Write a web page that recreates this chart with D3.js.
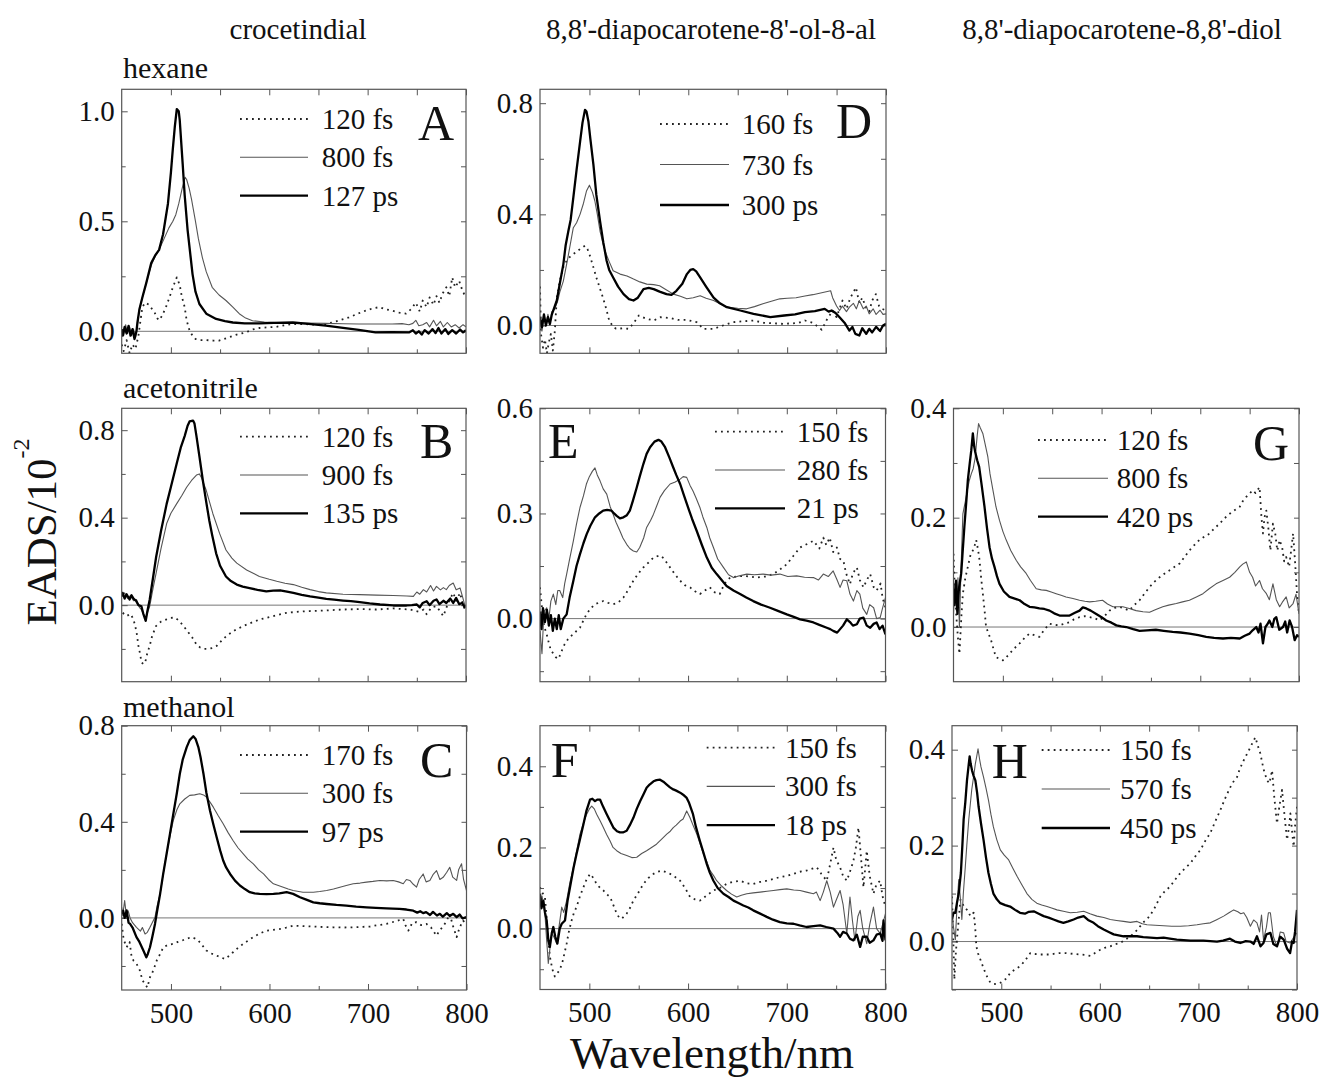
<!DOCTYPE html>
<html><head><meta charset="utf-8">
<script src="https://cdn.jsdelivr.net/npm/d3@7"></script>
<style>
body{margin:0;background:#fff}
svg{display:block}
text{font-family:"Liberation Serif","Times New Roman",serif;fill:#111}
</style>
</head><body>
<svg id="chart" width="1322" height="1081"></svg>
<script>
// ---------------- DATA ----------------
const columnTitles = ["crocetindial", "8,8'-diapocarotene-8'-ol-8-al", "8,8'-diapocarotene-8,8'-diol"];
const solventLabels = ["hexane", "acetonitrile", "methanol"];
const xMajor = [500, 600, 700, 800];
const xMinor = [550, 650, 750];

const legA = ["120 fs", "800 fs", "127 ps"];
const legB = ["120 fs", "900 fs", "135 ps"];
const legC = ["170 fs", "300 fs", "97 ps"];
const legD = ["160 fs", "730 fs", "300 ps"];
const legE = ["150 fs", "280 fs", "21 ps"];
const legF = ["150 fs", "300 fs", "18 ps"];
const legG = ["120 fs", "800 fs", "420 ps"];
const legH = ["150 fs", "570 fs", "450 ps"];

const yMajA = [0, 0.5, 1.0], yMinA = [0.25, 0.75];
const yMajB = [0, 0.4, 0.8], yMinB = [-0.2, 0.2, 0.6];
const yMajC = [0, 0.4, 0.8], yMinC = [-0.2, 0.2, 0.6];
const yMajD = [0, 0.4, 0.8], yMinD = [0.2, 0.6];
const yMajE = [0, 0.3, 0.6], yMinE = [-0.15, 0.15, 0.45];
const yMajF = [0, 0.2, 0.4], yMinF = [-0.1, 0.1, 0.3];
const yMajG = [0, 0.2, 0.4], yMinG = [0.1, 0.3];
const yMajH = [0, 0.2, 0.4], yMinH = [-0.1, 0.1, 0.3];

// Panel A : crocetindial / hexane
const A_120fs = [[450,-0.06],[452,-0.09],[455,-0.04],[458,-0.1],[461,-0.06],[464,-0.08],[467,-0.02],[471,0.11],[474,0.13],[478,0.12],[481,0.1],[483,0.09],[486,0.06],[488,0.05],[491,0.07],[495,0.11],[499,0.16],[502,0.2],[506,0.245],[509,0.21],[511,0.16],[514,0.11],[516,0.05],[519,0.003],[522,-0.02],[525,-0.035],[530,-0.04],[536,-0.04],[543,-0.042],[549,-0.042],[554,-0.035],[559,-0.027],[567,-0.015],[576,-0.005],[583,0.008],[590,0.015],[598,0.018],[607,0.02],[615,0.027],[624,0.033],[635,0.033],[647,0.03],[657,0.032],[668,0.045],[681,0.063],[690,0.08],[698,0.094],[705,0.104],[712,0.11],[718,0.1],[725,0.094],[732,0.085],[739,0.08],[744,0.1],[749,0.13],[753,0.09],[756,0.14],[760,0.11],[763,0.154],[767,0.12],[770,0.16],[773,0.13],[776,0.17],[780,0.2],[783,0.16],[786,0.245],[789,0.2],[793,0.23],[796,0.19],[798,0.17],[800,0.16]];
const A_800fs = [[450,0.01],[452,-0.02],[454,0.03],[456,-0.01],[458,0.02],[460,-0.02],[462,0.01],[464,-0.03],[466,0.03],[468,0.1],[471,0.154],[475,0.22],[480,0.3],[484,0.34],[488,0.37],[493,0.42],[498,0.47],[502,0.5],[505,0.53],[508,0.58],[510,0.62],[512,0.66],[514.5,0.70],[516,0.69],[518.6,0.65],[521,0.6],[525,0.5],[528,0.42],[532,0.335],[536,0.27],[542,0.2],[549,0.165],[556,0.14],[563,0.11],[569.5,0.08],[576,0.06],[583,0.048],[595,0.042],[607,0.04],[620,0.04],[635,0.038],[657,0.036],[675,0.034],[691,0.033],[710,0.033],[725,0.033],[735,0.035],[742,0.03],[746,0.036],[749,0.05],[752,0.025],[756,0.03],[760,0.04],[763,0.02],[767,0.05],[770,0.025],[774,0.045],[777,0.02],[781,0.04],[785,0.02],[789,0.03],[793,0.015],[797,0.03],[800,0.02]];
const A_127ps = [[450,0.01],[451,-0.02],[453,0.02],[455,-0.01],[457,0.025],[459,-0.02],[461,0.01],[463,-0.035],[465,0.0],[466,0.04],[468,0.1],[471,0.154],[475,0.22],[480,0.31],[484,0.345],[488,0.37],[492,0.44],[497,0.58],[500,0.72],[502,0.83],[504,0.93],[506,1.01],[508,1.0],[509,0.96],[512,0.76],[514,0.62],[517,0.46],[520,0.34],[522,0.26],[525,0.18],[529,0.124],[536,0.08],[546,0.056],[555,0.046],[563,0.04],[575,0.036],[590,0.036],[605,0.038],[624,0.04],[640,0.034],[657.5,0.026],[675,0.016],[691,0.006],[708,-0.005],[725,-0.004],[742,-0.005],[746,0.005],[749,-0.01],[752,0.0],[755,-0.015],[758,0.005],[762,-0.01],[766,0.01],[769,-0.008],[772,0.015],[775,-0.01],[779,0.01],[782,-0.012],[786,0.005],[790,-0.01],[794,0.008],[797,-0.005],[800,0.005]];

// Panel B : crocetindial / acetonitrile
const B_120fs = [[451,-0.035],[455,-0.05],[459,-0.04],[462,-0.065],[465,-0.12],[467,-0.186],[469,-0.23],[470,-0.26],[472,-0.27],[474,-0.26],[476,-0.22],[478.5,-0.186],[481,-0.14],[485,-0.095],[490,-0.075],[495.7,-0.065],[500,-0.058],[504,-0.057],[508,-0.07],[512.7,-0.095],[517,-0.12],[522.8,-0.155],[526,-0.18],[529.6,-0.193],[534,-0.2],[538,-0.2],[542,-0.196],[546.6,-0.186],[551,-0.165],[556.7,-0.14],[565,-0.115],[573.7,-0.095],[582,-0.08],[590.6,-0.065],[604,-0.05],[617.7,-0.035],[630,-0.03],[641,-0.027],[658,-0.024],[675,-0.02],[692,-0.018],[709,-0.02],[726,-0.015],[743,-0.02],[752,-0.03],[757,-0.02],[760,-0.042],[765,-0.01],[770,-0.005],[774,-0.03],[777,-0.05],[781,0.0],[784,0.03],[787,0.056],[790,0.02],[794,0.056],[797,0.0],[799,-0.02]];
const B_900fs = [[450,0.04],[453,0.056],[456,0.03],[459,0.045],[462,0.02],[465,0.026],[468,-0.01],[470,-0.02],[472,-0.04],[474.4,-0.06],[476.5,-0.03],[478.5,-0.005],[482,0.08],[485,0.146],[490,0.26],[495.7,0.373],[500,0.42],[505.8,0.463],[511,0.5],[516,0.539],[521,0.57],[526,0.595],[529,0.6],[531,0.584],[536,0.524],[542.7,0.418],[549.5,0.328],[556,0.252],[562,0.215],[567,0.192],[577,0.161],[590,0.131],[600,0.118],[607.6,0.109],[616,0.1],[624.5,0.094],[633,0.082],[641.5,0.071],[650,0.062],[658,0.056],[675,0.05],[692,0.048],[709,0.046],[726,0.044],[740,0.042],[746.5,0.04],[750,0.06],[753,0.05],[756.7,0.071],[760,0.06],[764,0.09],[767,0.065],[770,0.086],[774,0.07],[777,0.08],[780,0.071],[783,0.09],[787,0.101],[790,0.07],[794,0.078],[797,0.03],[799,-0.005]];
const B_135ps = [[450,0.04],[451,0.056],[453,0.03],[455,0.05],[458,0.026],[460,0.045],[462,0.03],[464.6,0.02],[467,0.0],[470,-0.005],[472,-0.04],[474.4,-0.072],[476,-0.03],[478.5,0.026],[482,0.13],[485,0.22],[490,0.34],[495.7,0.463],[500,0.54],[505.8,0.645],[510,0.72],[514,0.773],[517,0.82],[519,0.84],[522.5,0.844],[524,0.83],[526,0.773],[529,0.68],[532.5,0.57],[536,0.47],[539,0.388],[542,0.32],[546,0.237],[550,0.18],[556,0.131],[561,0.11],[567,0.094],[573,0.085],[580,0.078],[588,0.07],[597,0.063],[604,0.066],[611,0.068],[618,0.062],[624.5,0.056],[633,0.047],[641.5,0.04],[650,0.034],[658,0.029],[666,0.025],[675,0.021],[683,0.018],[692,0.014],[702,0.008],[712.6,0.003],[726,-0.0015],[739.7,-0.0015],[745,0.0],[750,0.003],[753,-0.01],[756,0.01],[760,0.018],[763,0.0],[767,0.02],[770,0.026],[773,0.005],[777,0.02],[780,0.01],[784,0.03],[787,0.01],[790,0.033],[793,0.005],[796,0.01],[799,-0.012]];

// Panel C : crocetindial / methanol
const C_170fs = [[450,-0.025],[452,-0.09],[455,-0.122],[458,-0.1],[460,-0.16],[462,-0.178],[465,-0.19],[468.6,-0.22],[471,-0.26],[473.7,-0.275],[476,-0.29],[478.7,-0.247],[482,-0.22],[485.5,-0.178],[489,-0.15],[492.3,-0.122],[497,-0.112],[502.4,-0.108],[507,-0.1],[512.6,-0.092],[517,-0.085],[521,-0.08],[524,-0.085],[527.8,-0.094],[532,-0.115],[536,-0.136],[541,-0.148],[546.4,-0.157],[551,-0.165],[554.8,-0.171],[559,-0.158],[563,-0.143],[568,-0.125],[573.4,-0.108],[578,-0.095],[583.6,-0.08],[590,-0.065],[597,-0.053],[603,-0.05],[610.6,-0.046],[617,-0.04],[624,-0.032],[634,-0.034],[644.5,-0.036],[655,-0.038],[664.7,-0.039],[675,-0.04],[685,-0.039],[695,-0.037],[702,-0.036],[710,-0.03],[718.8,-0.025],[727,-0.015],[735.8,-0.004],[738,-0.03],[741,-0.053],[745,-0.02],[749.3,-0.018],[754,-0.03],[759.4,-0.025],[764,-0.04],[769.6,-0.074],[773,-0.05],[776.3,-0.036],[780,-0.01],[783,0.017],[786,-0.03],[790,-0.08],[793,-0.04],[796.5,-0.011],[800,-0.025]];
const C_300fs = [[450,0.044],[451,0.01],[453,0.072],[455,0.0],[456.5,0.03],[458.5,0.0],[461,-0.02],[465,-0.039],[469,-0.055],[471,-0.04],[473.7,-0.067],[476,-0.06],[478.7,-0.039],[481,-0.02],[483.8,0.003],[486,0.05],[489,0.1],[492,0.18],[495.6,0.267],[499,0.34],[502.4,0.406],[506,0.45],[509,0.475],[514,0.495],[519,0.51],[524,0.512],[529.3,0.517],[533,0.512],[536,0.503],[540,0.48],[543,0.461],[548,0.425],[553,0.392],[558,0.355],[563,0.322],[568,0.292],[573.4,0.267],[578,0.245],[583.6,0.225],[589,0.2],[594,0.183],[599,0.16],[604,0.142],[609,0.135],[614,0.128],[619,0.12],[624,0.114],[634,0.107],[644.5,0.107],[651,0.11],[658,0.114],[665,0.12],[671.5,0.128],[678,0.135],[685,0.142],[692,0.145],[698.5,0.149],[705,0.152],[712,0.156],[719,0.154],[725.6,0.156],[731,0.15],[735.8,0.142],[739,0.16],[742.5,0.156],[746,0.14],[749.3,0.128],[752,0.16],[756,0.183],[759,0.15],[762.8,0.156],[766,0.18],[769.6,0.197],[773,0.16],[776.3,0.169],[780,0.19],[783,0.211],[786,0.17],[790,0.156],[792,0.2],[795,0.225],[797,0.16],[800,0.114]];
const C_97ps = [[450,0.017],[451.5,0.03],[453,0.0],[455,0.031],[457,-0.02],[458.5,-0.025],[461,-0.04],[465,-0.08],[468,-0.1],[472,-0.136],[475,-0.164],[476.5,-0.15],[478.7,-0.122],[481,-0.08],[483.8,-0.025],[486,0.03],[489,0.1],[492,0.18],[495.6,0.267],[499,0.35],[502.4,0.433],[506,0.52],[509,0.6],[512,0.66],[516,0.711],[519,0.74],[522.7,0.756],[525,0.745],[527.8,0.711],[530,0.67],[533,0.6],[536,0.52],[539.6,0.447],[543,0.39],[546.4,0.336],[550,0.28],[553,0.239],[556,0.21],[560,0.183],[565,0.155],[570,0.135],[575,0.12],[580,0.107],[585,0.102],[590,0.1],[597,0.099],[604,0.1],[610,0.102],[617.4,0.107],[624,0.1],[631,0.086],[638,0.075],[644.5,0.065],[651,0.061],[658,0.058],[668,0.054],[678,0.051],[688,0.047],[698.5,0.044],[708,0.042],[718.8,0.04],[725,0.039],[732,0.0375],[739,0.035],[746,0.03],[750,0.022],[753,0.028],[756,0.02],[759,0.024],[763,0.012],[766,0.025],[770,0.01],[773,0.017],[776,0.005],[780,0.02],[783,0.008],[786.5,0.017],[790,0.003],[793,0.014],[796,-0.002],[800,0.003]];

// Panel D : 8'-ol-8-al / hexane
const D_160fs = [[450,0.14],[451,-0.03],[453,-0.08],[455,-0.05],[457,-0.1],[459,-0.06],[461,-0.03],[463,-0.09],[465,-0.02],[467,0.1],[470,0.16],[473.6,0.21],[478,0.24],[483.7,0.257],[487,0.265],[490.5,0.275],[495.5,0.287],[498,0.275],[500,0.257],[504,0.21],[507,0.173],[510,0.14],[513.7,0.1],[517,0.06],[520,0.018],[524,-0.005],[527,-0.012],[534,-0.01],[540,-0.012],[545,0.01],[550,0.036],[557,0.025],[565,0.018],[572,0.03],[581.5,0.027],[590,0.02],[598.6,0.02],[608.5,0.012],[612,0.0],[615,-0.012],[625.6,-0.012],[635,0.0],[645.6,0.012],[655,0.015],[666,0.018],[676,0.01],[686,0.008],[696,0.006],[706,0.008],[712,0.01],[718,0.018],[726,0.01],[735,-0.015],[740,0.02],[746,0.054],[750,0.03],[756,0.09],[760,0.06],[764,0.1],[769.6,0.137],[773,0.08],[776,0.1],[779.6,0.066],[783,0.05],[786,0.09],[789.7,0.113],[793,0.07],[796,0.06],[800,0.054]];
const D_730fs = [[450,0.01],[452,-0.02],[454,0.03],[456,0.0],[458,0.04],[460,0.01],[462,0.05],[465,0.06],[468,0.09],[470,0.12],[473.6,0.16],[478,0.24],[483.7,0.352],[487,0.37],[490.5,0.4],[494,0.44],[497,0.484],[500,0.505],[503,0.48],[505.5,0.448],[508,0.4],[510.7,0.34],[514,0.29],[517,0.257],[520,0.23],[524,0.197],[531,0.185],[538,0.178],[544.6,0.167],[551,0.157],[558,0.149],[565,0.147],[571,0.143],[578,0.128],[585,0.113],[592,0.105],[598.6,0.096],[605,0.1],[612,0.107],[618,0.098],[625.6,0.09],[632,0.078],[639,0.066],[650,0.062],[659,0.06],[667,0.068],[675.5,0.078],[684,0.087],[692.6,0.096],[700,0.098],[709,0.1],[718,0.106],[726,0.111],[735,0.118],[744,0.125],[746,0.1],[750,0.07],[753,0.054],[756,0.07],[760,0.05],[763,0.066],[767,0.08],[770,0.06],[773,0.09],[777,0.06],[780,0.07],[783,0.042],[787,0.06],[790,0.04],[794,0.055],[797,0.04],[800,0.042]];
const D_300ps = [[450,0.03],[452,-0.006],[454,0.04],[456,0.0],[458,0.03],[460,0.005],[462,0.04],[464,0.06],[467,0.09],[470,0.15],[473.6,0.22],[476,0.29],[478.7,0.34],[481,0.38],[483.7,0.46],[487,0.56],[490.5,0.66],[493,0.73],[495.5,0.776],[497,0.77],[499,0.734],[501,0.67],[504,0.58],[507,0.47],[510.7,0.376],[514,0.3],[517.4,0.233],[520,0.2],[524,0.173],[529,0.14],[534.5,0.113],[540,0.095],[544.6,0.09],[549,0.1],[554.7,0.131],[560,0.135],[565,0.131],[571,0.122],[578,0.113],[583,0.11],[588,0.125],[594,0.15],[598.6,0.185],[602,0.2],[605,0.203],[608,0.195],[612,0.173],[618,0.14],[625.6,0.1],[632,0.08],[639,0.066],[652.6,0.054],[666,0.042],[683,0.03],[697,0.036],[708,0.04],[718,0.048],[728,0.052],[738,0.06],[742,0.05],[745,0.054],[749,0.045],[753,0.03],[758,0.01],[763,-0.018],[766,-0.005],[769,-0.03],[773,-0.036],[776,-0.01],[780,-0.03],[783,-0.012],[786,-0.025],[790,-0.005],[794,-0.02],[797,0.0],[800,0.006]];

// Panel E : 8'-ol-8-al / acetonitrile
const E_150fs = [[450,0.089],[452,0.03],[454,-0.02],[456.8,-0.045],[459,-0.07],[461,-0.09],[463.5,-0.1],[466,-0.11],[468.6,-0.115],[471,-0.1],[473,-0.085],[475,-0.073],[478,-0.06],[481,-0.05],[483.8,-0.045],[487,-0.035],[490.5,-0.026],[494,-0.005],[497,0.012],[501,0.028],[505.7,0.041],[510,0.046],[514,0.05],[519,0.045],[524,0.041],[529,0.045],[534.5,0.06],[540,0.085],[544.6,0.108],[550,0.13],[554.7,0.146],[560,0.16],[565,0.174],[569,0.178],[573,0.179],[577,0.165],[581.8,0.146],[587,0.125],[592,0.108],[597,0.095],[602,0.089],[607,0.078],[612,0.07],[617,0.08],[622,0.089],[627,0.075],[632,0.07],[637,0.1],[642.6,0.117],[649,0.12],[656,0.122],[663,0.12],[669.6,0.117],[678,0.12],[686.5,0.127],[693,0.14],[700,0.155],[707,0.18],[713.5,0.203],[720,0.212],[727,0.222],[733,0.2],[737,0.231],[740,0.21],[743.5,0.231],[747,0.19],[750.7,0.203],[754,0.17],[757.4,0.165],[760,0.13],[764,0.098],[767,0.13],[771,0.146],[774,0.11],[777.7,0.089],[781,0.11],[784.5,0.127],[788,0.09],[791,0.08],[795,0.1],[797,0.06],[800,0.031]];
const E_280fs = [[450,-0.035],[452,-0.1],[454,0.02],[456.8,0.031],[459,0.0],[461,0.05],[463.5,0.07],[466,0.04],[468,0.08],[470,0.08],[473,0.06],[475,0.1],[477,0.127],[480,0.17],[483.8,0.222],[487,0.27],[490.5,0.317],[494,0.35],[497,0.384],[500,0.405],[503,0.42],[505.7,0.43],[508,0.41],[510.8,0.393],[514,0.37],[517.6,0.355],[521,0.32],[524,0.298],[527,0.275],[531,0.25],[534,0.23],[537.8,0.212],[541,0.2],[544.6,0.193],[548,0.19],[551,0.203],[555,0.23],[558,0.26],[562,0.28],[565,0.298],[568,0.32],[571.6,0.346],[576,0.365],[581.8,0.384],[587,0.39],[592,0.398],[595,0.405],[598.6,0.403],[602,0.38],[605,0.364],[608,0.345],[612,0.317],[615,0.29],[619,0.26],[622,0.23],[625.7,0.203],[630,0.17],[635.8,0.146],[641,0.125],[646,0.117],[652,0.122],[659.5,0.127],[667,0.125],[676,0.127],[684,0.124],[693,0.127],[701,0.12],[710,0.122],[718,0.118],[727,0.117],[732,0.11],[737,0.127],[742,0.12],[747,0.136],[751,0.11],[754,0.089],[757,0.11],[760.8,0.108],[764,0.07],[767.5,0.05],[771,0.08],[774,0.07],[777,0.03],[781,0.012],[784,0.04],[788,0.031],[791,0.0],[794.6,0.003],[797,0.03],[800,0.06]];
const E_21ps = [[450,0.02],[451.5,-0.03],[453,0.03],[455,-0.01],[457,0.025],[459,-0.02],[461,0.01],[463,-0.035],[465,0.0],[467,-0.03],[469,0.01],[471,-0.03],[473.6,0.0],[477,0.012],[480,0.06],[483.8,0.108],[487,0.15],[490.5,0.184],[494,0.215],[497.3,0.241],[501,0.265],[505.7,0.289],[510,0.3],[514,0.308],[518,0.31],[522.5,0.308],[525,0.3],[527.7,0.293],[531,0.286],[534.5,0.289],[538,0.295],[541,0.308],[544,0.335],[548,0.374],[551,0.405],[554.7,0.441],[558,0.47],[561.5,0.489],[566,0.505],[570,0.51],[573,0.505],[576.7,0.489],[581,0.46],[585,0.431],[588,0.41],[592,0.384],[596,0.35],[600,0.317],[604,0.285],[608.8,0.25],[614,0.21],[619,0.174],[624,0.145],[629,0.127],[634,0.11],[639,0.093],[646,0.08],[652.7,0.07],[659,0.06],[666,0.05],[674,0.04],[683,0.031],[691,0.022],[700,0.012],[707,0.005],[713.5,-0.002],[720,-0.006],[727,-0.011],[733,-0.018],[740.5,-0.026],[744,-0.03],[747,-0.035],[751,-0.04],[754,-0.03],[757,-0.02],[760.8,-0.002],[764,-0.01],[767,-0.02],[771,-0.016],[774,0.0],[777.7,0.003],[781,-0.02],[784.5,-0.026],[788,-0.015],[791,-0.011],[794,-0.03],[797,-0.02],[800,-0.045]];

// Panel F : 8'-ol-8-al / methanol
const F_150fs = [[450,0.102],[452,0.09],[455,0.078],[457,0.02],[460,-0.069],[462.5,-0.1],[465,-0.118],[467.5,-0.11],[470,-0.102],[473,-0.08],[477,-0.037],[479,-0.01],[482,0.02],[484.5,0.04],[487,0.053],[490.5,0.08],[494,0.102],[497,0.12],[500.7,0.135],[504,0.125],[507.4,0.11],[511,0.1],[514.2,0.094],[517.5,0.085],[521,0.078],[524,0.06],[527.7,0.037],[530,0.028],[532.8,0.024],[535,0.03],[537.8,0.037],[541,0.05],[544.6,0.069],[550,0.09],[554.7,0.11],[560,0.125],[565,0.135],[569,0.14],[573,0.143],[577,0.14],[581.8,0.135],[587,0.127],[592,0.118],[597,0.1],[602,0.078],[607,0.072],[612,0.069],[618,0.08],[625.7,0.094],[632,0.1],[639,0.11],[645,0.115],[652.7,0.118],[659,0.112],[666,0.11],[673,0.115],[679.7,0.118],[686,0.122],[693,0.127],[700,0.13],[706.8,0.135],[713,0.14],[720,0.143],[725,0.147],[730.4,0.151],[735,0.135],[740.5,0.118],[744,0.16],[747.3,0.2],[750,0.17],[754,0.151],[757,0.13],[760.8,0.118],[764,0.14],[767.5,0.167],[770,0.2],[772.6,0.249],[775,0.18],[777.7,0.102],[781,0.192],[784,0.13],[787.8,0.086],[791,0.11],[794.6,0.118],[797,0.08],[800,0.053]];
const F_300fs = [[450,0.053],[452,0.08],[455,0.037],[456.5,-0.02],[458.4,-0.086],[460,-0.05],[461.8,-0.012],[464,-0.02],[466.9,-0.037],[469,0.0],[472,0.053],[474,0.04],[477,0.069],[480,0.11],[483.8,0.151],[487,0.19],[490.5,0.233],[494,0.26],[497.3,0.282],[500,0.295],[502.4,0.302],[505,0.295],[507.4,0.282],[511,0.265],[514.2,0.249],[517.5,0.232],[521,0.216],[524,0.2],[527.7,0.192],[532,0.185],[537.8,0.18],[543,0.175],[548,0.176],[553,0.185],[558,0.192],[563,0.2],[568,0.208],[573,0.22],[578.4,0.233],[582,0.24],[585,0.249],[588,0.255],[592,0.265],[595,0.27],[598.6,0.29],[602,0.273],[605,0.255],[608.8,0.233],[612,0.21],[615.5,0.184],[619,0.165],[622.3,0.143],[626,0.13],[629,0.118],[634,0.105],[639,0.094],[644,0.085],[649.3,0.078],[654,0.082],[659.5,0.086],[666,0.088],[673,0.09],[680,0.092],[686.5,0.094],[693,0.096],[700,0.098],[707,0.095],[713.5,0.094],[720,0.09],[727,0.086],[730,0.09],[733.8,0.069],[737,0.09],[740.5,0.118],[744,0.09],[747.3,0.053],[750,0.07],[754,0.094],[757,0.06],[760.8,-0.012],[764,0.078],[766.5,0.02],[769,-0.029],[772,0.03],[774.3,0.045],[777,0.0],[781,-0.037],[784,0.01],[787.8,0.053],[791,0.0],[794.6,-0.012],[797,0.01],[800,0.037]];
const F_18ps = [[450,0.086],[451.5,0.05],[453.4,0.069],[455,0.04],[456.8,0.02],[458.5,-0.03],[460,-0.045],[462,-0.01],[463.5,0.004],[465.5,-0.02],[467.6,-0.037],[470,0.0],[472,0.012],[475.3,0.02],[478,0.07],[480.4,0.102],[484,0.15],[487,0.184],[490.5,0.22],[494,0.257],[497,0.29],[500.7,0.318],[503,0.32],[505.7,0.314],[508,0.318],[510.8,0.318],[514,0.3],[517.6,0.282],[521,0.265],[524.3,0.249],[528,0.24],[531,0.237],[534,0.237],[537.8,0.241],[541,0.255],[544.6,0.273],[548,0.295],[551.4,0.314],[555,0.332],[558,0.347],[561,0.355],[565,0.363],[568,0.366],[571.6,0.367],[575,0.362],[578.4,0.355],[581.7,0.348],[585,0.343],[588,0.34],[592,0.335],[595,0.33],[598.6,0.322],[601,0.31],[605,0.282],[608,0.25],[612,0.216],[615.5,0.188],[619,0.159],[622,0.138],[625.7,0.118],[630,0.1],[635.8,0.086],[641,0.078],[646,0.069],[651,0.063],[656,0.057],[661,0.052],[666,0.045],[673,0.037],[679.7,0.029],[686,0.022],[693,0.016],[700,0.013],[706.8,0.012],[713,0.008],[720,0.004],[727,0.006],[733.8,0.008],[740,0.004],[747.3,0.0],[751,-0.01],[754,-0.02],[757,-0.008],[760.8,-0.012],[764,-0.025],[767.5,-0.029],[771,-0.015],[774.3,-0.045],[777,-0.02],[781,-0.02],[784,-0.035],[787.8,-0.029],[791,-0.015],[794.6,-0.012],[797,-0.03],[798,0.02],[800,-0.029]];

// Panel G : diol / acetonitrile
const G_120fs = [[450,0.134],[451.5,0.06],[452.7,0.024],[454.5,-0.02],[456,-0.049],[458,0.02],[459.5,0.061],[462,0.09],[464.5,0.11],[467,0.13],[469.6,0.14],[472,0.152],[473,0.159],[475,0.14],[476.4,0.122],[478,0.09],[479.7,0.061],[481.5,0.03],[483,0.0],[485.5,-0.012],[488,-0.024],[490.5,-0.04],[493,-0.055],[496.5,-0.058],[500,-0.061],[503,-0.056],[506.7,-0.049],[511,-0.04],[517,-0.03],[522,-0.02],[527,-0.012],[532,-0.015],[537,-0.018],[542,-0.005],[547.3,0.006],[552,0.004],[557.4,0.003],[562,0.006],[567.6,0.009],[572,0.014],[577.7,0.018],[583,0.02],[588,0.018],[593,0.016],[598,0.012],[603,0.02],[608,0.03],[613,0.035],[618,0.037],[623,0.034],[628,0.03],[633,0.04],[638.5,0.049],[643,0.06],[648.6,0.073],[653,0.082],[658.8,0.091],[664,0.098],[669,0.104],[674,0.11],[679,0.116],[684,0.128],[689,0.14],[694,0.15],[699,0.159],[704,0.165],[709.5,0.171],[714,0.18],[719.6,0.189],[724,0.198],[729.7,0.207],[735,0.214],[740,0.22],[743,0.23],[746.6,0.238],[750,0.244],[753,0.25],[756,0.245],[760,0.256],[762,0.2],[763.5,0.171],[765,0.2],[766.9,0.213],[769,0.18],[771,0.14],[773.6,0.189],[776,0.17],[778,0.14],[780.4,0.159],[783,0.145],[785,0.12],[787,0.128],[790,0.11],[792,0.14],[794,0.171],[796,0.12],[798,0.06],[800,0.024]];
const G_800fs = [[450,0.024],[451.5,0.08],[453,0.03],[454.5,0.09],[456,0.0],[457.5,0.1],[459.5,0.207],[462,0.23],[464,0.25],[466,0.268],[468,0.28],[470,0.29],[472,0.31],[474,0.35],[475.4,0.372],[477,0.365],[479.7,0.354],[482,0.335],[484.8,0.311],[487,0.28],[490,0.25],[493,0.22],[496.6,0.195],[500,0.175],[503.4,0.159],[508,0.14],[513.5,0.122],[518,0.11],[523.6,0.098],[528,0.085],[533.8,0.07],[539,0.068],[544,0.067],[549,0.064],[554,0.061],[559,0.058],[564,0.055],[571,0.052],[577.7,0.049],[583,0.047],[588,0.046],[594,0.047],[601,0.049],[606,0.042],[611.5,0.037],[616,0.037],[621.6,0.037],[628,0.034],[635,0.03],[642,0.028],[648.6,0.027],[655,0.032],[662,0.037],[668,0.04],[675.7,0.043],[682,0.046],[689,0.049],[696,0.055],[702.7,0.061],[709,0.07],[716,0.079],[723,0.085],[729.7,0.091],[735,0.1],[740,0.11],[743,0.115],[746.6,0.119],[750,0.1],[753,0.091],[756,0.075],[760,0.085],[763,0.07],[767,0.061],[770,0.05],[773.6,0.079],[777,0.05],[780.4,0.037],[783,0.045],[787,0.055],[790,0.035],[794,0.043],[797,0.06],[800,0.024]];
const G_420ps = [[450,0.07],[451,0.04],[452.5,0.085],[454,0.024],[455.5,0.07],[457.8,0.098],[459,0.13],[461,0.183],[463,0.23],[464.5,0.268],[466.5,0.3],[468,0.323],[469.6,0.354],[471,0.33],[472,0.32],[474,0.305],[476,0.293],[478.5,0.26],[481.4,0.22],[484,0.18],[486.5,0.146],[489,0.125],[491.5,0.11],[494,0.093],[496.6,0.079],[501,0.065],[506.7,0.055],[512,0.052],[517,0.049],[522,0.042],[527,0.037],[532,0.036],[537,0.034],[542,0.033],[547.3,0.03],[552,0.025],[557.4,0.021],[562,0.021],[567.6,0.021],[573,0.026],[577.7,0.03],[581,0.036],[584.5,0.034],[589,0.03],[594.6,0.024],[600,0.018],[604.7,0.012],[610,0.008],[615,0.003],[620,0.001],[625,0.0],[632,-0.004],[638.5,-0.007],[646,-0.006],[655,-0.005],[663,-0.007],[672,-0.009],[680,-0.01],[689,-0.012],[698,-0.015],[706,-0.018],[714,-0.02],[723,-0.021],[731,-0.02],[740,-0.021],[745,-0.016],[750,-0.012],[753,-0.006],[756.7,0.0],[759,-0.01],[761,0.006],[763.5,-0.03],[766,0.0],[768,0.005],[770,0.012],[773,0.0],[775,0.015],[777,0.018],[780,-0.005],[783.8,0.0],[786,0.01],[788,-0.01],[790.5,0.012],[793,0.0],[795.6,-0.024],[798,-0.015],[800,-0.018]];

// Panel H : diol / methanol
const H_150fs = [[450,0.094],[451,0.03],[452.4,-0.079],[454,-0.02],[455,0.004],[457,0.05],[458.5,0.087],[460,0.085],[461.8,0.073],[463.5,0.07],[465.2,0.066],[467,0.06],[468.6,0.053],[470.5,0.058],[472,0.06],[473.5,0.03],[474.7,-0.01],[476.5,-0.025],[478.7,-0.037],[481,-0.05],[483.8,-0.065],[486,-0.075],[489,-0.086],[492,-0.088],[495.6,-0.089],[499,-0.086],[502.4,-0.082],[506,-0.075],[509.2,-0.065],[514,-0.058],[519.3,-0.051],[524,-0.04],[529.5,-0.024],[534,-0.026],[539.6,-0.027],[545,-0.027],[549.8,-0.027],[555,-0.025],[560,-0.024],[565,-0.024],[570,-0.025],[575,-0.026],[580,-0.027],[585,-0.028],[590.3,-0.03],[595,-0.024],[600.5,-0.017],[605,-0.013],[610.6,-0.01],[615,-0.006],[620.8,-0.003],[626,0.004],[631,0.011],[636,0.02],[641,0.032],[644,0.04],[647.8,0.046],[651,0.055],[654.6,0.066],[658,0.08],[661.4,0.094],[666,0.105],[671.5,0.115],[676,0.128],[681.7,0.143],[686,0.152],[691.8,0.163],[697,0.178],[702,0.191],[707,0.21],[712,0.226],[717,0.25],[722.2,0.274],[727,0.298],[732.4,0.322],[736,0.335],[739.2,0.343],[742,0.36],[746,0.378],[749,0.39],[752.7,0.405],[755,0.415],[757.8,0.426],[760,0.41],[762.8,0.392],[766,0.36],[769.6,0.336],[772,0.33],[774.7,0.357],[777,0.3],[779.7,0.246],[782,0.28],[784.8,0.316],[787,0.27],[789.9,0.212],[792,0.24],[793.3,0.267],[795,0.23],[796.6,0.198],[798,0.24],[800,0.281]];
const H_570fs = [[450,0.06],[451.5,0.03],[453.4,0.004],[455,0.07],[456.8,0.129],[458.5,0.09],[460,0.046],[461.5,0.1],[463.5,0.156],[465,0.2],[467,0.254],[470,0.316],[472,0.345],[473.7,0.371],[475,0.385],[476.4,0.402],[478,0.38],[479.4,0.364],[482,0.343],[484.5,0.32],[487,0.295],[489.5,0.265],[492,0.239],[495.5,0.212],[499,0.191],[503,0.18],[507.5,0.17],[512,0.152],[516,0.136],[521,0.118],[526,0.1],[531,0.088],[536,0.08],[541,0.076],[546.4,0.073],[551,0.07],[556.5,0.066],[563,0.063],[570,0.06],[577,0.061],[583.6,0.063],[590,0.058],[597,0.053],[604,0.05],[610.6,0.046],[617,0.044],[624,0.042],[631,0.04],[637.7,0.042],[643,0.037],[647.8,0.035],[656,0.034],[664.7,0.033],[673,0.032],[681.7,0.032],[690,0.033],[698.6,0.035],[705,0.037],[712,0.039],[718,0.045],[725.6,0.053],[731,0.06],[735.8,0.066],[740,0.062],[743,0.058],[746,0.06],[749,0.05],[752.7,0.032],[756,0.045],[759.4,0.039],[762,0.02],[764,0.055],[766,0.004],[769,0.03],[771,0.06],[773,0.06],[776,0.01],[779.7,-0.01],[783,0.02],[786.5,0.018],[789,0.0],[793,-0.003],[797,0.01],[800,0.018]];
const H_450ps = [[450,0.046],[451.5,0.06],[453.4,0.06],[455,0.08],[456.8,0.1],[459,0.143],[460.5,0.2],[461.8,0.254],[463.5,0.29],[465.2,0.336],[467,0.37],[467.9,0.386],[469,0.37],[470.3,0.357],[472,0.345],[473.7,0.336],[475.5,0.31],[477,0.281],[479.5,0.245],[482,0.212],[484.5,0.175],[487,0.143],[489.5,0.12],[492,0.1],[495.5,0.088],[499,0.08],[504,0.076],[509,0.073],[514,0.066],[519,0.06],[524,0.058],[528,0.062],[532.9,0.063],[538,0.058],[543,0.053],[548,0.05],[553,0.046],[558,0.042],[563,0.039],[568,0.042],[573.4,0.046],[578,0.05],[583.6,0.053],[588,0.045],[593.7,0.039],[598,0.032],[603.9,0.025],[609,0.02],[614,0.015],[619,0.013],[624,0.011],[631,0.011],[637.7,0.011],[644,0.009],[651,0.008],[658,0.007],[664.7,0.008],[671,0.006],[678,0.004],[685,0.003],[691.8,0.002],[698,0.002],[705,0.002],[712,0.001],[718.8,0.0],[725,0.002],[732,0.006],[737,0.0],[742.5,-0.003],[748,0.001],[752.7,0.0],[756,-0.005],[759.4,0.011],[763,-0.01],[766,-0.003],[769,0.015],[773,0.018],[776,-0.005],[779.7,-0.01],[783,0.01],[786.5,0.004],[790,-0.015],[793,-0.024],[795,0.0],[796.6,-0.003],[798,0.02],[800,0.066]];

// ---------------- LAYOUT ----------------
const panels = [
  {L:"A", s:[A_120fs,A_800fs,A_127ps], names:legA, maj:yMajA, min:yMinA, yd:[-0.1,1.1],  box:[121.7,89.3,466,353.3],   leg:[240,308,321.7,119,38.3],   let:[418,140],   xl:false},
  {L:"B", s:[B_120fs,B_900fs,B_135ps], names:legB, maj:yMajB, min:yMinB, yd:[-0.35,0.9], box:[121.7,408.3,466,681.7],  leg:[240,308,321.7,436.7,38.3], let:[420,458],   xl:false},
  {L:"C", s:[C_170fs,C_300fs,C_97ps],  names:legC, maj:yMajC, min:yMinC, yd:[-0.3,0.8],  box:[121.7,725.7,466.5,990],  leg:[240,308,321.7,755,38.3],   let:[420,776.7], xl:true},
  {L:"D", s:[D_160fs,D_730fs,D_300ps], names:legD, maj:yMajD, min:yMinD, yd:[-0.1,0.85], box:[540,89.3,886,353.3],     leg:[660,729,741.7,124,40.5],   let:[836,138],   xl:false},
  {L:"E", s:[E_150fs,E_280fs,E_21ps],  names:legE, maj:yMajE, min:yMinE, yd:[-0.18,0.6], box:[540,408.3,885.5,681.7],  leg:[715,785,796.7,431.7,38.3], let:[548,458.3], xl:false},
  {L:"F", s:[F_150fs,F_300fs,F_18ps],  names:legF, maj:yMajF, min:yMinF, yd:[-0.15,0.5], box:[540,725.7,885.5,989.5],  leg:[706.7,775,785,747.7,38.7], let:[550.7,776.7], xl:true},
  {L:"G", s:[G_120fs,G_800fs,G_420ps], names:legG, maj:yMajG, min:yMinG, yd:[-0.1,0.4],  box:[953.5,408.3,1299,681.7], leg:[1038,1108,1116.7,440,38.3], let:[1253,460],  xl:false},
  {L:"H", s:[H_150fs,H_570fs,H_450ps], names:legH, maj:yMajH, min:yMinH, yd:[-0.1,0.45], box:[952,725.7,1297,989.5],   leg:[1041.7,1110,1120,750,39],  let:[991.7,778.3], xl:true}
];
const styles = [
  {stroke:"#222", width:1.8, dash:"1.8,4.2"},
  {stroke:"#555", width:1.1, dash:null},
  {stroke:"#000", width:2.3, dash:null}
];
const FONT = "'Liberation Serif','Times New Roman',serif";

const svg = d3.select("#chart");

panels.forEach((p, i) => {
  const [x0, y0, x1, y1] = p.box;
  const x = d3.scaleLinear().domain([450, 800]).range([x0, x1]);
  const y = d3.scaleLinear().domain(p.yd).range([y1, y0]);
  const g = svg.append("g");

  // clip
  const cid = "clip" + p.L;
  svg.append("clipPath").attr("id", cid).append("rect")
    .attr("x", x0).attr("y", y0).attr("width", x1 - x0).attr("height", y1 - y0);

  // zero line
  g.append("line").attr("x1", x0).attr("x2", x1).attr("y1", y(0)).attr("y2", y(0))
    .attr("stroke", "#777").attr("stroke-width", 1);

  // axes (inward ticks)
  const fmt = d3.format(".1f");
  const left = g.append("g").attr("transform", `translate(${x0},0)`)
    .call(d3.axisLeft(y).tickValues(p.maj).tickSize(-6).tickPadding(7).tickFormat(fmt));
  left.selectAll("text").style("font-family", FONT).style("font-size", "29px").attr("fill", "#111");
  g.append("g").attr("transform", `translate(${x0},0)`)
    .call(d3.axisLeft(y).tickValues(p.min).tickSize(-4).tickFormat(""));
  g.append("g").attr("transform", `translate(${x1},0)`)
    .call(d3.axisRight(y).tickValues(p.maj.concat(p.min)).tickSize(-5).tickFormat(""));
  g.append("g").attr("transform", `translate(0,${y0})`)
    .call(d3.axisTop(x).tickValues(xMajor.concat(xMinor)).tickSize(-6).tickFormat(""));
  const bot = g.append("g").attr("transform", `translate(0,${y1})`)
    .call(d3.axisBottom(x).tickValues(xMajor).tickSize(-6).tickPadding(12).tickFormat(p.xl ? d3.format("d") : ""));
  bot.selectAll("text").style("font-family", FONT).style("font-size", "29px").attr("fill", "#111");
  g.append("g").attr("transform", `translate(0,${y1})`)
    .call(d3.axisBottom(x).tickValues(xMinor).tickSize(-4).tickFormat(""));
  g.selectAll(".domain").remove();
  g.selectAll(".tick line").attr("stroke", "#555");

  // series
  const line = d3.line().x(d => x(d[0])).y(d => y(d[1]));
  const sg = g.append("g").attr("clip-path", `url(#${cid})`);
  p.s.forEach((arr, k) => {
    const st = styles[k];
    sg.append("path").datum(arr).attr("d", line)
      .attr("fill", "none").attr("stroke", st.stroke).attr("stroke-width", st.width)
      .attr("stroke-dasharray", st.dash).attr("stroke-linejoin", "round");
  });

  // frame
  g.append("rect").attr("x", x0).attr("y", y0).attr("width", x1 - x0).attr("height", y1 - y0)
    .attr("fill", "none").attr("stroke", "#555").attr("stroke-width", 1.2);

  // legend
  const [lx0, lx1, tx, ly0, ldy] = p.leg;
  p.names.forEach((nm, k) => {
    const st = styles[k];
    const ly = ly0 + k * ldy;
    g.append("line").attr("x1", lx0).attr("x2", lx1).attr("y1", ly).attr("y2", ly)
      .attr("stroke", st.stroke).attr("stroke-width", st.width).attr("stroke-dasharray", st.dash);
    g.append("text").attr("x", tx).attr("y", ly + 10).style("font-size", "29px").text(nm);
  });

  // panel letter
  g.append("text").attr("x", p.let[0]).attr("y", p.let[1]).style("font-size", "50px").text(p.L);
});

// column titles
const colX = [298, 711, 1122];
columnTitles.forEach((t, i) => {
  svg.append("text").attr("x", colX[i]).attr("y", 39).attr("text-anchor", "middle")
    .style("font-size", "29px").text(t);
});
// solvent labels
const solvY = [78, 398, 716.5];
solventLabels.forEach((t, i) => {
  svg.append("text").attr("x", 123).attr("y", solvY[i]).style("font-size", "30px").text(t);
});

// axis titles
svg.append("text").attr("x", 712).attr("y", 1068).attr("text-anchor", "middle")
  .style("font-size", "45px").text("Wavelength/nm");
const yt = svg.append("text").attr("transform", "translate(56,532) rotate(-90)")
  .attr("text-anchor", "middle").style("font-size", "43px");
yt.append("tspan").text("EADS/10");
yt.append("tspan").attr("dy", -27).style("font-size", "24px").text("-2");
</script>
</body></html>
